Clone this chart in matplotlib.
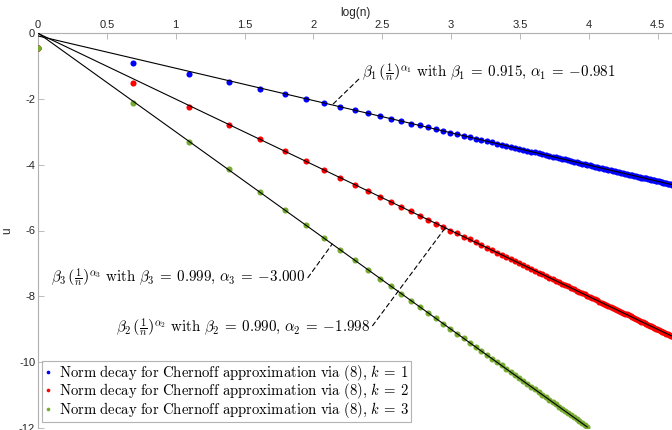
import numpy as np
import matplotlib
matplotlib.use("Agg")
import matplotlib.pyplot as plt

plt.rcParams['mathtext.fontset'] = 'cm'
plt.rcParams['font.family'] = ['Liberation Sans', 'DejaVu Sans']

# n values
n_blue = list(range(1, 101))
n_red = list(range(1, 101))
n_green = list(range(1, 55))

# log of norm
u_blue = [-0.45, -0.91, -1.25, -1.50, -1.69, -1.86, -2.01, -2.14, -2.24, -2.35,
          -2.44, -2.53, -2.61, -2.68, -2.75, -2.81, -2.87, -2.92, -2.98, -3.03,
          -3.08, -3.12, -3.16, -3.21, -3.25, -3.29, -3.32, -3.36, -3.39, -3.43,
          -3.46, -3.49, -3.52, -3.55, -3.58, -3.60, -3.63, -3.66, -3.68, -3.71,
          -3.73, -3.76, -3.78, -3.80, -3.82, -3.84, -3.87, -3.89, -3.91, -3.93,
          -3.95, -3.97, -3.98, -4.00, -4.02, -4.04, -4.06, -4.07, -4.09, -4.11,
          -4.12, -4.14, -4.15, -4.17, -4.18, -4.20, -4.21, -4.23, -4.24, -4.26,
          -4.27, -4.28, -4.30, -4.31, -4.32, -4.34, -4.35, -4.36, -4.38, -4.39,
          -4.40, -4.41, -4.42, -4.44, -4.45, -4.46, -4.47, -4.48, -4.49, -4.50,
          -4.51, -4.52, -4.54, -4.55, -4.56, -4.57, -4.58, -4.59, -4.60, -4.61]
u_red = [-0.45, -1.51, -2.24, -2.80, -3.22, -3.58, -3.89, -4.16, -4.40, -4.61,
         -4.80, -4.97, -5.13, -5.28, -5.42, -5.55, -5.67, -5.79, -5.89, -6.00,
         -6.09, -6.19, -6.27, -6.36, -6.44, -6.52, -6.60, -6.67, -6.74, -6.81,
         -6.87, -6.93, -7.00, -7.06, -7.11, -7.17, -7.22, -7.28, -7.33, -7.38,
         -7.43, -7.48, -7.52, -7.57, -7.62, -7.66, -7.70, -7.74, -7.79, -7.83,
         -7.87, -7.90, -7.94, -7.98, -8.02, -8.05, -8.09, -8.12, -8.16, -8.19,
         -8.22, -8.26, -8.29, -8.32, -8.35, -8.38, -8.41, -8.44, -8.47, -8.50,
         -8.53, -8.55, -8.58, -8.61, -8.64, -8.66, -8.69, -8.71, -8.74, -8.77,
         -8.79, -8.81, -8.84, -8.86, -8.89, -8.91, -8.93, -8.96, -8.98, -9.00,
         -9.02, -9.04, -9.07, -9.09, -9.11, -9.13, -9.15, -9.17, -9.19, -9.21]
u_green = [-0.45, -2.13, -3.30, -4.14, -4.83, -5.38, -5.84, -6.24, -6.59, -6.91,
           -7.19, -7.46, -7.70, -7.92, -8.13, -8.32, -8.50, -8.67, -8.83, -8.99,
           -9.13, -9.27, -9.41, -9.53, -9.66, -9.77, -9.89, -10.00, -10.10, -10.20,
           -10.30, -10.40, -10.49, -10.58, -10.67, -10.75, -10.83, -10.91, -10.99, -11.07,
           -11.14, -11.21, -11.28, -11.35, -11.42, -11.49, -11.55, -11.61, -11.68, -11.74,
           -11.80, -11.85, -11.91, -11.97]

# fitted parameters
betas = [0.915, 0.990, 0.999]
alphas = [-0.981, -1.998, -3.000]

labels = [r"$\mathrm{Norm\ decay\ for\ Chernoff\ approximation\ via\ (8){,}}\ k\:{=}\:%d$" % k
          for k in (1, 2, 3)]
colors = ['#0000ff', '#ff0000', '#77ac30']

fig = plt.figure(figsize=(6.72, 4.30), dpi=100)
ax = fig.add_axes([38/672, 2/430, 1 - 38/672, (428-33)/430 + 0.0])

series = [(n_blue, u_blue), (n_red, u_red), (n_green, u_green)]
for (n, u), col, lab in zip(series, colors, labels):
    x = np.log(np.array(n))
    ax.plot(x, u, 'o', color=col, ms=4.4, mec=col, mew=0, label=lab, zorder=3)

def fit(i, x):
    return np.log(betas[i]) + alphas[i] * x

for i, (n, u) in enumerate(series):
    xl = np.array([0, np.log(n[-1])])
    ax.plot(xl, fit(i, xl), '-', color='black', lw=0.8, zorder=4)

ax.set_xlim(0, np.log(100))
ax.set_ylim(-12, 0)
ax.xaxis.tick_top()
ax.xaxis.set_label_position('top')
ax.set_xticks(np.arange(0, 4.51, 0.5))
ax.set_xticklabels(['0', '0.5', '1', '1.5', '2', '2.5', '3', '3.5', '4', '4.5'])
ax.set_yticks(np.arange(-12, 0.1, 2))
ax.set_yticklabels(['-12', '-10', '-8', '-6', '-4', '-2', '0'])
ax.tick_params(direction='in', length=4, width=0.6, color='#b0b0b0',
               labelsize=8, labelcolor='#262626', pad=2)
ax.set_xlabel('log(n)', fontsize=8.5, color='#262626', labelpad=3)
ax.set_ylabel('u', fontsize=8.5, color='#262626', labelpad=4)
for s in ['right', 'bottom']:
    ax.spines[s].set_visible(False)
for s in ['top', 'left']:
    ax.spines[s].set_color('#b0b0b0')
    ax.spines[s].set_linewidth(0.8)

def ann(i, x0, xt, yt, ha, relpos):
    txt = (r"$\beta_%d\,\left(\frac{1}{n}\right)^{\alpha_%d}\ \mathrm{with}\ \beta_%d\:{=}\:%.3f{,}\ \alpha_%d\:{=}\:{-}%.3f$"
           % (i + 1, i + 1, i + 1, betas[i], i + 1, abs(alphas[i])))
    ax.annotate(txt, xy=(x0, fit(i, x0)), xytext=(xt, yt), ha=ha, va='center',
                fontsize=10.8, zorder=5,
                arrowprops=dict(arrowstyle='-', linestyle=(0, (4, 3)), lw=0.8,
                                color='black', shrinkA=0, shrinkB=0, relpos=relpos))

ann(0, 2.137, 2.35, -1.19, 'left', (0.0, 0.3))
ann(2, 2.137, 1.94, -7.42, 'right', (1.0, 0.3))
ann(1, 2.958, 2.41, -8.94, 'right', (1.0, 0.4))

leg = ax.legend(loc='lower left', bbox_to_anchor=(0.006, 0.015), borderaxespad=0,
                fontsize=10.6, frameon=True, fancybox=False, handlelength=0.5,
                handletextpad=0.5, borderpad=0.15, labelspacing=-0.1, markerscale=0.6)
leg.get_frame().set_edgecolor('#a0a0a0')
leg.get_frame().set_linewidth(0.8)

fig.savefig('out.png', dpi=100)
